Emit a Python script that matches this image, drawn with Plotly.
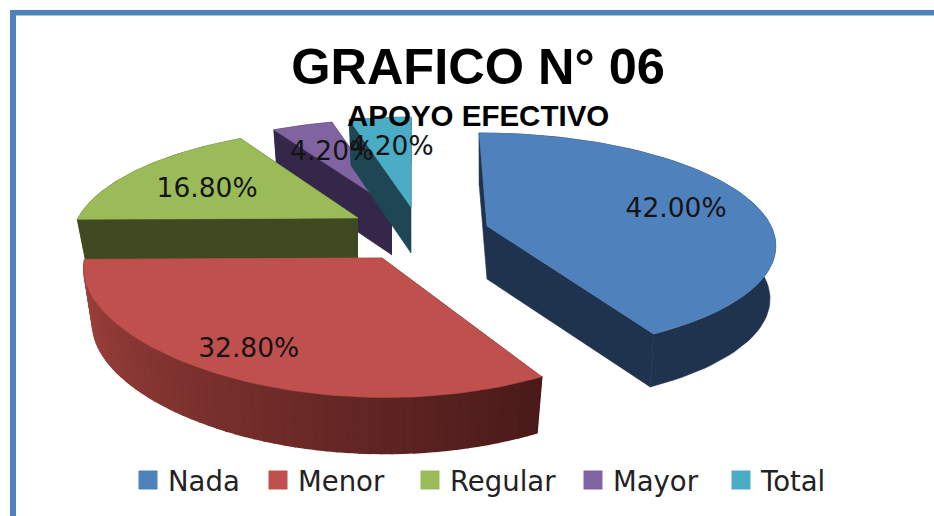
import numpy as np
import plotly.graph_objects as go

categories = ["Nada", "Menor", "Regular", "Mayor", "Total"]
values = [42.0, 32.8, 16.8, 4.2, 4.2]

# look of the slices, same order as categories
top_colors = ["#4F81BD", "#C0504D", "#9BBB59", "#8064A2", "#4BACC6"]
wall_colors = ["#1F334F", "#A4443F", "#3F4A22", "#35274A", "#1F4654"]
wall_end_colors = ["#1F334F", "#4A1B1A", "#3F4A22", "#35274A", "#1F4654"]
center_x = [487, 382, 358, 392, 411]
center_y = [226, 258, 218, 207, 207]
radius_x = [284, 297, 280, 273, 280]
radius_y = [107, 113, 107, 104, 107]
perspective = [0.15, 0.19, 0.19, 0.19, 0.19]
perspective_x = [0.15, 0.1, 0.19, 0.19, 0.19]
shear = [-9, -3, 5, 0, 0]
depth = [53, 56, 42, 48, 46]
bottom_scale = [0.98, 0.97, 0.97, 0.97, 0.97]
label_radius = [0.7, 0.8, 0.66, 0.62, 0.62]
label_dx = [3, -7, -1, -1, 1]
label_dy = [3, 2, 5, 0, 0]
legend_x = [128, 258, 410, 573, 721]
draw_order = [3, 4, 2, 1, 0]


def project(i, angle, frac=1.0):
    a = np.radians(angle)
    u, v = np.sin(a) * frac, np.cos(a) * frac
    x = center_x[i] + (radius_x[i] * u + shear[i] * v) / (1 + perspective_x[i] * v)
    y = center_y[i] - radius_y[i] * v / (1 + perspective[i] * v)
    return x, y


def lower(i, x, y):
    return center_x[i] + (x - center_x[i]) * bottom_scale[i], y + depth[i]


def polygon(x, y, color, width=0.6):
    return go.Scatter(
        x=list(x), y=list(y), mode="lines", fill="toself", fillcolor=color,
        line=dict(color=color, width=width), hoverinfo="skip", showlegend=False,
    )


def mix(c1, c2, t):
    a = [int(c1[j:j + 2], 16) for j in (1, 3, 5)]
    b = [int(c2[j:j + 2], 16) for j in (1, 3, 5)]
    return "rgb(%d,%d,%d)" % tuple(a[j] + (b[j] - a[j]) * t for j in range(3))


starts = np.cumsum([0] + values[:-1]) * 3.6
ends = np.cumsum(values) * 3.6

fig = go.Figure()

for i in draw_order:
    cx, cy = center_x[i], center_y[i]
    # radial faces first, the top covers whichever is hidden
    for edge, color in ((starts[i], wall_end_colors[i]), (ends[i], wall_colors[i])):
        ex, ey = project(i, edge)
        bx, by = lower(i, ex, ey)
        fig.add_trace(polygon([cx, ex, bx, cx], [cy, ey, by, cy + depth[i]], color))

    # outer wall: one piece, except the red one which carries a gradient
    if wall_colors[i] == wall_end_colors[i]:
        arc = np.linspace(starts[i], ends[i], 80)
        ax, ay = project(i, arc)
        bx, by = lower(i, ax, ay)
        fig.add_trace(polygon(np.r_[ax, bx[::-1], ax[0]], np.r_[ay, by[::-1], ay[0]], wall_colors[i]))
    else:
        angles = np.linspace(ends[i], starts[i], 61)
        for n in range(len(angles) - 1):
            x1, y1 = project(i, angles[n])
            x2, y2 = project(i, angles[n + 1])
            x3, y3 = lower(i, x2, y2)
            x4, y4 = lower(i, x1, y1)
            fig.add_trace(polygon([x1, x2, x3, x4, x1], [y1, y2, y3, y4, y1],
                                  mix(wall_colors[i], wall_end_colors[i], n / (len(angles) - 2)), width=1.6))

    arc = np.linspace(starts[i], ends[i], 80)
    ax, ay = project(i, arc)
    fig.add_trace(polygon(np.r_[cx, ax, cx], np.r_[cy, ay, cy], top_colors[i]))

label_points = [project(i, (starts[i] + ends[i]) / 2, label_radius[i]) for i in range(len(values))]
fig.add_trace(go.Scatter(
    x=[p[0] + dx for p, dx in zip(label_points, label_dx)],
    y=[p[1] + dy for p, dy in zip(label_points, label_dy)],
    mode="text", text=[f"{v:.2f}%" for v in values], textposition="middle center",
    textfont=dict(family="DejaVu Sans", size=26.5, color="#141414"),
    hoverinfo="skip", showlegend=False,
))

# legend swatches only, one legend per entry so each sits where the reference has it
legends = {}
for n, (name, color) in enumerate(zip(categories, top_colors)):
    key = "legend" if n == 0 else f"legend{n + 1}"
    fig.add_trace(go.Scatter(
        x=[None], y=[None], mode="markers", name=name, legend=key, showlegend=True,
        marker=dict(symbol="square", size=16, color=color, line=dict(color=color, width=3)),
    ))
    legends[key] = dict(x=legend_x[n] / 934, xanchor="left", y=1 - 480 / 516, yanchor="middle",
                        font=dict(family="DejaVu Sans", size=27.5, color="#222222"),
                        bgcolor="rgba(0,0,0,0)")

fig.update_layout(
    width=934, height=516, margin=dict(l=0, r=0, t=0, b=0),
    paper_bgcolor="white", plot_bgcolor="white",
    title=dict(text="<b>GRAFICO N° 06</b>", x=478 / 934, xanchor="center", y=1 - 66 / 516, yanchor="middle",
               font=dict(family="Liberation Sans", size=50.5, color="black")),
    xaxis=dict(range=[0, 934], visible=False, fixedrange=True),
    yaxis=dict(range=[516, 0], visible=False, fixedrange=True),
    annotations=[dict(text="<b>APOYO EFECTIVO</b>", x=478, y=115, xref="x", yref="y", showarrow=False,
                      font=dict(family="Liberation Sans", size=29.5, color="black"))],
    shapes=[
        dict(type="rect", x0=10, x1=934, y0=10, y1=15.5, xref="x", yref="y", fillcolor="#4F81BD", line=dict(width=0)),
        dict(type="rect", x0=10, x1=16, y0=10, y1=516, xref="x", yref="y", fillcolor="#4F81BD", line=dict(width=0)),
    ],
    **legends,
)

# the page's default body margin would push the chart 8px in
fig.write_html("out.html", config={"displayModeBar": False},
               post_script="document.body.style.margin='0';document.body.style.overflow='hidden';")
